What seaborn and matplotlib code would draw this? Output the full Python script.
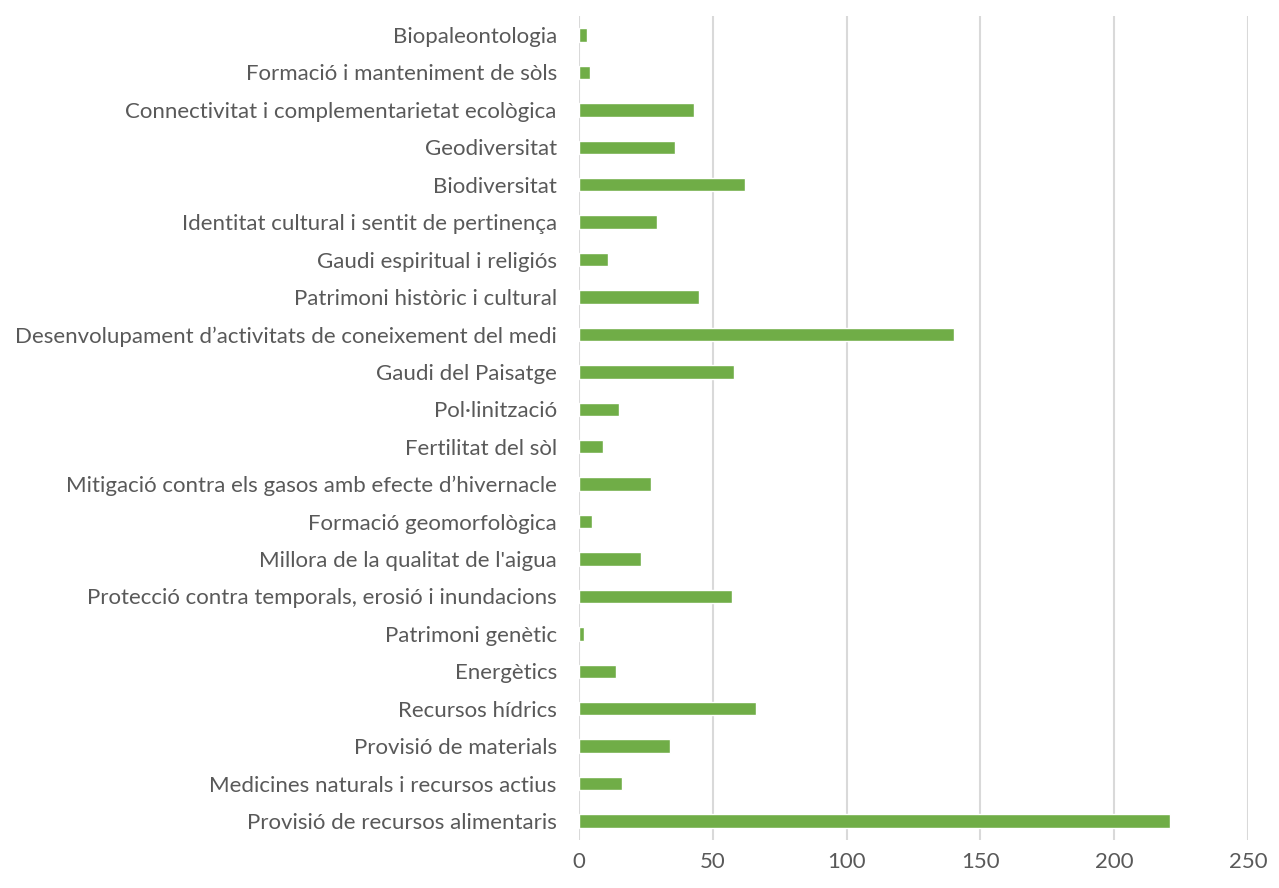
import matplotlib
matplotlib.use("Agg")
import matplotlib.pyplot as plt
import seaborn as sns
import pandas as pd

categories = [
    "Biopaleontologia",
    "Formació i manteniment de sòls",
    "Connectivitat i complementarietat ecològica",
    "Geodiversitat",
    "Biodiversitat",
    "Identitat cultural i sentit de pertinença",
    "Gaudi espiritual i religiós",
    "Patrimoni històric i cultural",
    "Desenvolupament d’activitats de coneixement del medi",
    "Gaudi del Paisatge",
    "Pol·linització",
    "Fertilitat del sòl",
    "Mitigació contra els gasos amb efecte d’hivernacle",
    "Formació geomorfològica",
    "Millora de la qualitat de l'aigua",
    "Protecció contra temporals, erosió i inundacions",
    "Patrimoni genètic",
    "Energètics",
    "Recursos hídrics",
    "Provisió de materials",
    "Medicines naturals i recursos actius",
    "Provisió de recursos alimentaris",
]
values = [3, 4, 43, 36, 62, 29, 11, 45, 140, 58, 15, 9, 27, 5, 23, 57, 2, 14, 66, 34, 16, 221]
x_ticks = [0, 50, 100, 150, 200, 250]

df = pd.DataFrame({"cat": categories, "val": values})

sns.set_theme(style="white")
plt.rcParams["font.family"] = ["Lato", "DejaVu Sans"]

fig = plt.figure(figsize=(12.79, 8.88), dpi=100)
ax = fig.add_axes([0.4527, 0.0544, 0.9758 - 0.4527, 0.9816 - 0.0544])

sns.barplot(data=df, x="val", y="cat", color="#70AD47", width=0.36,
            saturation=1, ax=ax, zorder=3)

ax.set_xlim(0, 250)
ax.set_xticks(x_ticks)
ax.set_xticklabels([str(t) for t in x_ticks])
ax.xaxis.grid(True, color="#D9D9D9", linewidth=1.5, zorder=0)
ax.yaxis.grid(False)
for s in ax.spines.values():
    s.set_visible(False)
ax.set_xlabel("")
ax.set_ylabel("")
ax.tick_params(axis="both", length=0, labelsize=16, colors="#595959")
ax.tick_params(axis="y", pad=16)
ax.tick_params(axis="x", pad=9)

fig.savefig("out.png", dpi=100)
